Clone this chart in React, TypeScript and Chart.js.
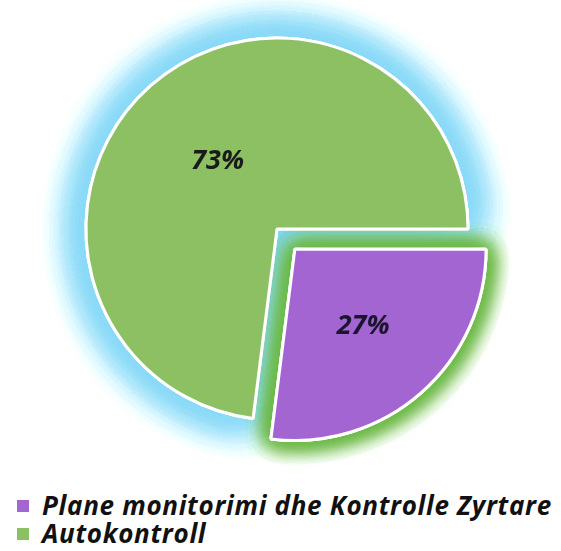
import React, { useEffect, useRef } from "react";
import { Chart, registerables } from "chart.js";

Chart.register(...registerables);

const LABELS = ["Plane monitorimi dhe Kontrolle Zyrtare", "Autokontroll"];
const VALUES = [27, 73];
const COLORS = ["#A365D1", "#8DC063"];
const OFFSETS = [108, 0];
const GLOW_COLORS = ["rgba(108,184,70,1)", "rgba(135,216,245,1)"];
const GLOW_BLUR = [22, 40];
const GLOW_PASSES = [5, 6];
const PCT_LABELS = ["27%", "73%"];
const LABEL_COLORS = ["#1c1530", "#1a1a1a"];
const LABEL_RADIUS = [0.54, 0.47];

const glowPlugin = {
  id: "glow",
  beforeDatasetsDraw(chart: any) {
    const ctx = chart.ctx;
    const meta = chart.getDatasetMeta(0);
    const order = [1, 0];
    order.forEach((i) => {
      const arc = meta.data[i];
      if (!arc) return;
      ctx.save();
      ctx.shadowColor = GLOW_COLORS[i];
      ctx.shadowBlur = GLOW_BLUR[i];
      for (let k = 0; k < GLOW_PASSES[i]; k++) arc.draw(ctx);
      ctx.restore();
    });
  },
};

const labelPlugin = {
  id: "pctLabels",
  afterDatasetsDraw(chart: any) {
    const ctx = chart.ctx;
    const meta = chart.getDatasetMeta(0);
    meta.data.forEach((arc: any, i: number) => {
      const p = arc.getProps(["x", "y", "startAngle", "endAngle", "outerRadius"], true);
      const mid = (p.startAngle + p.endAngle) / 2;
      const shift = (arc.options.offset || 0) / 4;
      const rr = p.outerRadius * LABEL_RADIUS[i] + shift;
      const tx = p.x + Math.cos(mid) * rr;
      const ty = p.y + Math.sin(mid) * rr;
      ctx.save();
      ctx.font = "italic bold 27px 'Open Sans', Lato, sans-serif";
      ctx.fillStyle = LABEL_COLORS[i];
      ctx.textAlign = "center";
      ctx.textBaseline = "middle";
      ctx.fillText(PCT_LABELS[i], tx, ty);
      ctx.restore();
    });
  },
};

export default function App() {
  const ref = useRef<HTMLCanvasElement | null>(null);
  useEffect(() => {
    if (!ref.current) return;
    const chart = new Chart(ref.current, {
      type: "pie",
      data: {
        labels: LABELS,
        datasets: [
          {
            data: VALUES,
            backgroundColor: COLORS,
            borderColor: "#ffffff",
            borderWidth: 3,
            offset: OFFSETS,
          },
        ],
      },
      options: {
        animation: false,
        responsive: false,
        events: [],
        rotation: 90,
        radius: 191,
        layout: { padding: { left: 0, right: 7, top: 0, bottom: 12 } },
        plugins: {
          legend: { display: false },
          tooltip: { enabled: false },
        },
      },
      plugins: [glowPlugin, labelPlugin],
    } as any);
    return () => chart.destroy();
  }, []);

  const rowStyle: React.CSSProperties = {
    display: "flex",
    alignItems: "center",
    height: 28,
  };
  const textStyle: React.CSSProperties = {
    fontFamily: "'Open Sans', Lato, sans-serif",
    fontStyle: "italic",
    fontWeight: 700,
    fontSize: 26,
    letterSpacing: "0.7px",
    color: "#111",
    whiteSpace: "nowrap",
    lineHeight: "28px",
  };

  return (
    <div style={{ position: "absolute", left: 0, top: 0, width: 561, height: 551, background: "#fff", overflow: "hidden" }}>
      <canvas ref={ref} width={561} height={470} style={{ position: "absolute", left: 0, top: 0 }} />
      <div style={{ position: "absolute", left: 17, top: 491 }}>
        {LABELS.map((l, i) => (
          <div key={l} style={rowStyle}>
            <span style={{ display: "inline-block", width: 12, height: 12, background: COLORS[i], marginRight: 13, marginTop: 2, flexShrink: 0 }} />
            <span style={textStyle}>{l}</span>
          </div>
        ))}
      </div>
    </div>
  );
}
